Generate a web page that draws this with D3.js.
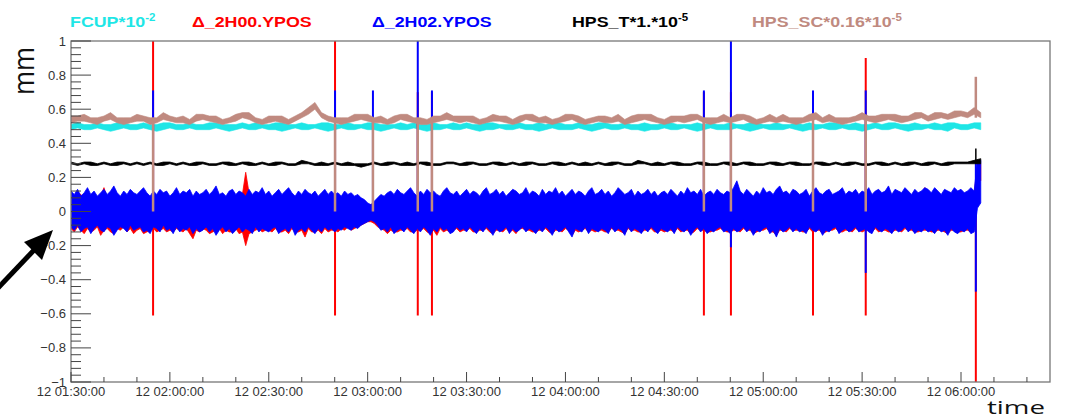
<!DOCTYPE html>
<html>
<head>
<meta charset="utf-8">
<script src="https://cdn.jsdelivr.net/npm/d3@7"></script>
<style>
  body { margin: 0; background: #fff; }
  svg { display: block; }
</style>
</head>
<body>
<div id="chart"></div>
<script>
const width = 1074, height = 419;

// ---- data ----
// envelope (max / min of the trace) per bin, starting 12 01:30:00
// 2H00 / 2H02 in 1-minute bins, FCUP / HPS_T / HPS_SC in 2-minute bins
const startTime = "01:30:00";
const endTime = "06:27:00";
const fastStep = 1, slowStep = 2;

const legendLabels = [["FCUP*10", "-2"], ["\u0394_2H00.YPOS", ""], ["\u0394_2H02.YPOS", ""], ["HPS_T*1.*10", "-5"], ["HPS_SC*0.16*10", "-5"]];
const seriesColors = ["#1ee6e6", "#ff0000", "#0000ff", "#000000", "#c08a80"];

// all envelope values in 1e-2 mm
const fcupHi = [
  51,52,51,51,52,51,51,52,52,51,51,52,51,51,52,52,51,51,52,51,
  51,52,52,51,51,51,52,51,52,51,51,52,52,51,51,52,51,51,52,52,
  51,51,52,51,51,52,52,51,51,51,52,51,52,51,51,52,51,51,52,51,
  52,51,51,52,52,51,51,51,52,51,51,52,51,52,52,51,51,52,51,51,
  52,52,51,51,52,51,51,52,51,51,52,52,51,51,51,52,51,52,51,51,
  52,51,51,52,52,51,51,52,51,51,52,51,52,51,51,52,52,51,51,52,
  51,51,52,51,52,52,51,51,52,51,51,52,51,52,52,51,51,52,52
];
const fcupLo = [
  48,49,48,48,49,48,47,48,49,48,48,49,48,47,48,49,48,48,49,48,
  48,48,49,48,47,48,49,48,48,49,48,48,47,48,49,48,48,49,48,47,
  48,49,48,48,49,48,48,47,48,49,48,48,49,48,47,48,48,49,48,48,
  49,48,47,48,48,49,48,48,49,48,48,47,48,49,48,48,48,49,48,47,
  48,49,48,48,49,48,48,47,48,48,49,48,48,49,48,47,48,49,48,48,
  48,49,48,47,48,49,48,48,48,49,48,47,48,48,49,48,48,49,48,48,
  47,48,49,48,48,49,48,47,48,48,49,48,48,47,49,48,48,49,48
];
const h00Hi = [
  9,8,11,10,8,12,9,10,8,9,14,8,10,11,9,8,10,9,11,10,
  9,10,11,9,8,10,9,11,10,9,8,10,12,9,10,9,11,8,10,9,
  10,11,9,10,12,9,10,8,11,10,9,10,10,23,11,9,10,9,12,9,
  10,8,10,11,9,10,12,10,8,11,9,10,9,8,10,8,10,11,9,10,
  9,10,8,10,9,10,8,9,7,6,4,4,5,7,9,8,10,11,9,11,
  10,9,11,12,10,8,10,9,11,10,11,9,8,10,12,10,9,10,8,10,
  11,9,10,10,8,11,12,9,10,11,9,10,8,10,11,10,9,10,12,9,
  10,10,8,11,9,10,10,12,9,10,8,10,11,9,10,10,8,11,12,9,
  10,11,9,10,8,10,12,10,9,10,11,8,10,9,10,11,9,10,8,10,
  10,9,11,10,8,10,9,12,10,10,9,11,8,10,10,9,11,10,9,10,
  10,12,14,10,9,11,10,8,10,9,12,10,10,9,11,12,10,10,9,11,
  10,9,10,11,8,10,12,10,9,10,11,9,10,10,12,9,10,10,11,9,
  10,10,12,9,10,11,10,10,13,9,11,10,10,12,10,9,11,10,10,14,
  11,10,12,10,9,11,10,10,13,10,11,10,10,12,10,29,28
];
const h00Lo = [
  -10,-12,-9,-11,-13,-10,-12,-11,-9,-14,-11,-10,-12,-13,-10,-11,-9,-12,-10,-13,
  -11,-10,-13,-12,-11,-10,-12,-11,-10,-12,-11,-12,-10,-11,-12,-10,-13,-16,-11,-12,
  -10,-11,-13,-12,-11,-10,-13,-11,-12,-12,-10,-13,-12,-20,-13,-12,-11,-10,-12,-11,
  -11,-12,-10,-12,-12,-11,-13,-10,-12,-12,-11,-15,-10,-12,-12,-11,-13,-10,-12,-11,
  -11,-12,-10,-11,-9,-11,-10,-9,-8,-7,-6,-6,-7,-9,-10,-11,-13,-11,-12,-12,
  -11,-11,-10,-12,-12,-11,-11,-10,-12,-13,-11,-14,-10,-12,-11,-12,-11,-10,-12,-11,
  -11,-10,-12,-12,-11,-11,-10,-12,-13,-11,-11,-12,-10,-12,-11,-13,-10,-10,-11,-11,
  -12,-12,-11,-11,-10,-12,-13,-11,-11,-12,-10,-11,-14,-11,-12,-11,-10,-12,-11,-12,
  -11,-11,-12,-12,-10,-11,-11,-12,-13,-10,-11,-11,-12,-12,-11,-11,-10,-12,-12,-11,
  -12,-11,-11,-12,-10,-12,-11,-11,-13,-12,-10,-11,-11,-12,-12,-11,-11,-10,-11,-12,
  -12,-11,-11,-12,-10,-11,-11,-13,-12,-11,-11,-10,-12,-12,-14,-11,-11,-12,-10,-11,
  -11,-11,-12,-12,-10,-12,-11,-11,-13,-12,-11,-11,-10,-12,-12,-11,-11,-12,-10,-11,
  -12,-11,-11,-12,-10,-12,-11,-11,-12,-12,-11,-11,-12,-10,-11,-11,-12,-12,-11,-11,
  -11,-12,-12,-11,-11,-12,-13,-11,-11,-12,-12,-11,-11,-12,-11,20,18
];
const h02Hi = [
  12,10,13,9,11,14,10,12,9,11,13,10,12,15,11,9,12,10,13,11,
  10,12,14,11,9,12,10,13,11,12,9,11,14,10,12,11,13,9,12,10,
  11,13,10,12,15,10,11,9,12,13,10,12,11,9,13,10,12,11,14,10,
  12,9,11,13,10,12,14,11,9,12,10,13,11,10,12,9,11,13,10,12,
  10,11,9,12,10,11,9,10,8,7,5,4,6,8,10,9,11,12,10,13,
  11,10,12,14,11,9,12,10,13,11,12,10,9,12,14,11,10,12,9,11,
  13,10,12,11,9,12,14,10,11,13,10,12,9,11,13,12,10,11,14,10,
  12,11,9,13,10,12,11,14,10,12,9,11,13,10,12,11,9,12,14,10,
  11,13,10,12,9,11,14,12,10,11,13,9,12,10,11,13,10,12,9,11,
  12,10,13,11,9,12,10,14,11,12,10,13,9,11,12,10,13,11,10,12,
  11,14,18,12,10,13,11,9,12,10,14,11,12,10,13,15,11,12,10,13,
  12,10,11,13,9,12,14,11,10,12,13,10,11,12,14,10,12,11,13,10,
  12,11,14,10,12,13,11,12,15,10,13,12,11,14,12,10,13,11,12,14,
  13,11,14,12,10,13,12,11,14,12,13,11,12,14,12,30,30
];
const h02Lo = [
  -9,-11,-8,-12,-10,-9,-13,-10,-8,-11,-12,-9,-10,-14,-11,-9,-10,-12,-8,-11,
  -10,-9,-12,-11,-13,-9,-10,-12,-8,-11,-10,-13,-9,-12,-10,-11,-9,-13,-10,-12,
  -11,-9,-12,-10,-14,-11,-9,-12,-10,-13,-11,-9,-12,-10,-11,-13,-9,-12,-10,-11,
  -12,-10,-9,-13,-11,-10,-12,-9,-14,-11,-10,-12,-9,-11,-13,-10,-12,-9,-11,-10,
  -12,-10,-11,-9,-10,-11,-9,-10,-8,-7,-6,-5,-6,-8,-11,-10,-12,-9,-13,-11,
  -10,-12,-9,-11,-13,-10,-12,-9,-11,-14,-10,-12,-9,-11,-10,-13,-12,-9,-11,-10,
  -12,-9,-11,-13,-10,-12,-9,-11,-14,-10,-12,-11,-9,-13,-10,-12,-11,-9,-12,-10,
  -11,-13,-10,-12,-9,-11,-14,-10,-12,-11,-9,-12,-15,-10,-11,-12,-9,-13,-10,-11,
  -12,-10,-11,-13,-9,-12,-10,-11,-14,-9,-12,-10,-11,-13,-10,-12,-9,-11,-13,-10,
  -11,-12,-10,-13,-9,-11,-12,-10,-14,-11,-9,-12,-10,-13,-11,-12,-10,-9,-12,-11,
  -13,-10,-12,-11,-9,-12,-10,-14,-11,-12,-10,-9,-13,-11,-15,-10,-12,-11,-9,-12,
  -10,-12,-11,-13,-9,-11,-12,-10,-14,-11,-12,-10,-9,-13,-11,-10,-12,-11,-9,-12,
  -11,-10,-12,-13,-9,-11,-12,-10,-11,-13,-10,-12,-11,-9,-12,-10,-13,-11,-12,-10,
  -12,-11,-13,-10,-12,-11,-14,-10,-12,-13,-11,-12,-10,-13,-12,2,5
];
const hpsTHi = [
  29,28,29,29,28,29,28,29,29,28,29,28,29,28,29,29,28,29,28,29,
  29,28,28,29,29,28,29,29,28,29,28,29,29,28,28,30,29,28,29,28,
  29,28,29,28,28,28,29,28,29,29,28,29,28,29,29,28,28,29,29,28,
  29,29,28,28,29,29,28,29,28,29,29,28,28,29,29,28,29,28,29,28,
  29,28,29,29,28,28,30,29,28,29,28,29,29,28,28,29,29,28,28,29,
  29,28,29,29,28,28,29,29,28,29,29,28,28,29,29,28,29,28,29,29,
  28,28,29,29,28,29,28,29,29,28,29,29,28,29,29,29,29,30,31
];
const hpsTLo = [
  28,27,28,27,27,28,27,27,28,27,28,27,28,27,27,28,27,28,27,27,
  28,27,27,28,27,27,28,27,27,28,27,27,28,27,27,28,28,27,27,27,
  28,27,27,27,26,27,28,27,27,28,27,27,27,28,27,27,27,28,28,27,
  27,28,27,27,28,27,27,28,27,27,28,27,27,28,27,27,28,27,27,27,
  28,27,27,28,27,27,28,28,27,27,27,28,27,27,27,28,27,27,27,28,
  27,27,28,27,27,27,28,27,27,28,27,27,27,28,27,27,28,27,27,28,
  27,27,28,27,27,28,27,27,28,27,27,28,27,27,28,28,28,28,28
];
const hpsSCHi = [
  56,56,57,55,55,56,58,55,55,55,57,56,55,55,58,56,55,56,54,57,
  57,56,56,54,55,57,58,58,55,54,56,56,56,54,56,58,61,64,58,56,
  55,55,55,57,57,57,55,56,54,56,57,57,55,55,54,56,56,58,56,56,
  56,56,54,55,57,56,56,54,56,57,57,55,56,54,55,57,57,56,54,55,
  56,56,55,57,54,56,57,57,57,55,54,56,56,56,57,57,55,55,55,57,
  55,57,57,56,54,55,57,55,57,55,55,55,57,58,55,57,55,55,55,56,
  58,56,56,57,57,57,56,56,58,58,56,58,58,57,59,59,58,61,58
];
const hpsSCLo = [
  52,53,53,52,51,53,54,52,51,52,53,53,51,52,54,53,52,52,51,53,
  54,53,52,51,52,53,55,54,52,51,52,53,52,51,53,55,57,60,55,53,
  52,51,52,53,54,53,52,52,51,52,54,53,52,51,51,52,53,54,53,52,
  53,52,51,52,53,53,52,51,52,54,53,52,52,51,52,53,54,52,51,52,
  53,52,52,53,51,52,53,54,53,52,51,52,53,52,53,54,52,51,52,53,
  52,53,54,52,51,52,53,52,53,52,51,52,53,54,52,53,52,51,52,53,
  54,53,52,53,54,53,52,53,54,55,53,54,55,54,55,56,55,57,55
];

// beam trips: [top, bottom] in mm reached by each trace at that instant
const tripTimes = ["01:54:54", "02:50:06", "03:01:36", "03:15:12", "03:19:30", "04:42:00", "04:50:12", "05:15:06", "05:31:06", "06:04:30"];
const tripFcup = [[0.5,0],[0.5,0],[0.5,0],[0.5,0],[0.5,0],[0.5,0],[0.5,0],[0.5,0],[0.5,0],null];
const trip2H00 = [[1.2,-0.61],[1.2,-0.61],null,[0.7,-0.61],[0.7,-0.61],[0.7,-0.61],[0.7,-0.61],[0.7,-0.61],[0.9,-0.61],[0,-1.2]];
const trip2H02 = [[0.71,-0.05],[0.71,-0.05],[0.71,-0.02],[1.2,-0.05],[0.71,-0.05],[0.71,-0.05],[1.2,-0.21],[0.71,-0.05],[0.71,-0.36],[0.3,-0.47]];
const tripHpsT = [[0.28,0.12],[0.28,0.12],[0.28,0.12],[0.28,0.12],[0.28,0.12],[0.28,0.12],[0.28,0.12],[0.28,0.12],[0.28,0.12],[0.37,0.28]];
const tripHpsSC = [[0.55,0],[0.55,0],[0.55,0],[0.55,0],[0.55,0],[0.55,0],[0.55,0],[0.55,0],[0.55,0],[0.79,0.55]];

// ---- layout ----
const margin = {top: 41, right: 24, bottom: 37, left: 71};
const plotW = width - margin.left - margin.right;
const plotH = height - margin.top - margin.bottom;

function parseT(s) {
    const [h, m, sec] = s.split(":").map(Number);
    return new Date(2000, 0, 12, h, m, sec);
}
const t0 = parseT(startTime);

const x = d3.scaleTime().domain([t0, parseT(endTime)]).range([margin.left, margin.left + plotW]);
const y = d3.scaleLinear().domain([-1, 1]).range([margin.top + plotH, margin.top]);

const svg = d3.select("#chart").append("svg").attr("width", width).attr("height", height);

svg.append("defs").append("clipPath").attr("id", "plotclip")
    .append("rect").attr("x", margin.left).attr("y", margin.top).attr("width", plotW).attr("height", plotH);

function bins(hi, lo, step) {
    return hi.map((v, i) => ({t: new Date(t0.getTime() + i * step * 60000), hi: v / 100, lo: lo[i] / 100}));
}

const series = [
    {bins: bins(fcupHi, fcupLo, slowStep), trips: tripFcup, color: seriesColors[0], w: 1.5, edge: 0.6},
    {bins: bins(h00Hi, h00Lo, fastStep), trips: trip2H00, color: seriesColors[1], w: 2, edge: 0.8},
    {bins: bins(h02Hi, h02Lo, fastStep), trips: trip2H02, color: seriesColors[2], w: 2, edge: 0.8},
    {bins: bins(hpsTHi, hpsTLo, slowStep), trips: tripHpsT, color: seriesColors[3], w: 1.5, edge: 0.8},
    {bins: bins(hpsSCHi, hpsSCLo, slowStep), trips: tripHpsSC, color: seriesColors[4], w: 2.5, edge: 0.6}
];

const area = d3.area().x(d => x(d.t)).y0(d => y(d.lo)).y1(d => y(d.hi));

const plot = svg.append("g").attr("clip-path", "url(#plotclip)");
series.forEach(s => {
    plot.append("path")
        .attr("d", area(s.bins))
        .attr("fill", s.color)
        .attr("stroke", s.color)
        .attr("stroke-width", s.edge)
        .attr("stroke-linejoin", "bevel");
    plot.append("g").selectAll("line")
        .data(s.trips.map((r, i) => r ? {t: parseT(tripTimes[i]), hi: r[0], lo: r[1]} : null).filter(d => d))
        .enter().append("line")
        .attr("x1", d => x(d.t)).attr("x2", d => x(d.t))
        .attr("y1", d => y(d.hi)).attr("y2", d => y(d.lo))
        .attr("stroke", s.color)
        .attr("stroke-width", s.w);
});

// frame
svg.append("rect")
    .attr("x", margin.left).attr("y", margin.top)
    .attr("width", plotW).attr("height", plotH)
    .attr("fill", "none").attr("stroke", "#777").attr("stroke-width", 1.3);

// y axis ticks (ROOT style, pointing inward)
const yMajor = d3.range(-5, 6).map(i => i / 5);
const yMinor = d3.range(-25, 26).filter(i => i % 5 !== 0).map(i => i / 25);
const axisG = svg.append("g").attr("stroke", "#444").attr("stroke-width", 1);
yMajor.forEach(v => axisG.append("line")
    .attr("x1", margin.left).attr("x2", margin.left + 20)
    .attr("y1", y(v)).attr("y2", y(v)));
yMinor.forEach(v => axisG.append("line")
    .attr("x1", margin.left).attr("x2", margin.left + 10)
    .attr("y1", y(v)).attr("y2", y(v)));

const fmtY = d3.format("~g");
svg.append("g").selectAll("text").data(yMajor).enter().append("text")
    .attr("x", margin.left - 5)
    .attr("y", d => y(d))
    .attr("dy", "0.35em")
    .attr("text-anchor", "end")
    .attr("font-family", "Liberation Sans, Arial, sans-serif")
    .attr("font-size", 13)
    .attr("fill", "#333")
    .text(d => fmtY(d));

// x axis ticks
const xMajor = d3.timeMinute.every(30).range(x.domain()[0], x.domain()[1]);
const xMinor = d3.timeMinute.every(10).range(x.domain()[0], x.domain()[1]).filter(d => d.getMinutes() % 30 !== 0);
const yb = margin.top + plotH;
xMajor.forEach(d => axisG.append("line")
    .attr("x1", x(d)).attr("x2", x(d)).attr("y1", yb).attr("y2", yb - 10));
xMinor.forEach(d => axisG.append("line")
    .attr("x1", x(d)).attr("x2", x(d)).attr("y1", yb).attr("y2", yb - 5));

const fmtX = d3.timeFormat("%d %H:%M:%S");
svg.append("g").selectAll("text").data(xMajor).enter().append("text")
    .attr("x", d => x(d))
    .attr("y", yb + 14)
    .attr("text-anchor", "middle")
    .attr("font-family", "Liberation Sans, Arial, sans-serif")
    .attr("font-size", 13)
    .attr("fill", "#333")
    .text(d => fmtX(d));

// axis titles
svg.append("text")
    .attr("transform", "translate(34,71) rotate(-90) scale(1,1.15)")
    .attr("text-anchor", "middle")
    .attr("font-family", "Open Sans, DejaVu Sans, sans-serif")
    .attr("font-size", 26)
    .attr("fill", "#111")
    .text("mm");

svg.append("text")
    .attr("x", 987).attr("y", 414)
    .attr("textLength", 58).attr("lengthAdjust", "spacingAndGlyphs")
    .attr("font-family", "Open Sans, DejaVu Sans, sans-serif")
    .attr("font-size", 19)
    .attr("fill", "#111")
    .text("time");

// legend
const legendX = [70, 192, 372, 572, 752];
legendLabels.forEach((lab, i) => {
    const t = svg.append("text")
        .attr("transform", `translate(${legendX[i]},27) scale(1.15,1)`)
        .attr("font-family", "Liberation Sans, Arial, sans-serif")
        .attr("font-weight", "bold")
        .attr("font-size", 15.5)
        .attr("fill", seriesColors[i]);
    t.append("tspan").text(lab[0]);
    if (lab[1]) t.append("tspan").attr("dy", -6).attr("font-size", 10).text(lab[1]);
});

// annotation arrow
svg.append("line")
    .attr("x1", -2).attr("y1", 288).attr("x2", 36).attr("y2", 248)
    .attr("stroke", "#000").attr("stroke-width", 5);
svg.append("polygon")
    .attr("points", "53,230 24,242 42,260")
    .attr("fill", "#000");
</script>
</body>
</html>
